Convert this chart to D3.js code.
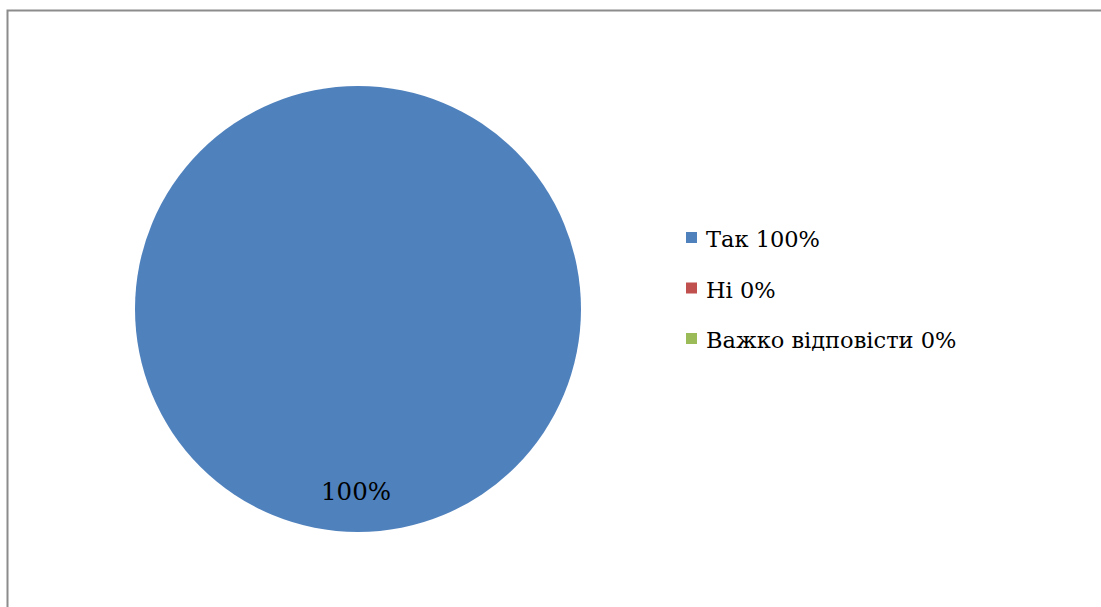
<!DOCTYPE html>
<head>
<meta charset="utf-8">
<style>
  body { margin: 0; background: #fff; }
</style>
</head>
<body>
<script src="https://d3js.org/d3.v7.min.js"></script>
<script>
  // data
  var categories = ["Так", "Ні", "Важко відповісти"];
  var values = [100, 0, 0];
  var colors = ["#4F81BD", "#C0504D", "#9BBB59"];

  var width = 1101, height = 607;
  var cx = 358, cy = 309, radius = 223;
  var serif = "'DejaVu Serif', serif";

  var svg = d3.select("body").append("svg")
      .attr("width", width)
      .attr("height", height);

  // chart border (runs off right and bottom edge)
  svg.append("path")
      .attr("d", "M7.5," + height + " V10.5 H" + width)
      .attr("fill", "none")
      .attr("stroke", "#8c8c8c")
      .attr("stroke-width", 2);

  var data = categories.map(function (c, i) { return { name: c, value: values[i], color: colors[i] }; });

  var pie = d3.pie().sort(null).value(function (d) { return d.value; });
  var arc = d3.arc().innerRadius(0).outerRadius(radius);
  var labelArc = d3.arc().innerRadius(radius * 0.82).outerRadius(radius * 0.82);

  var g = svg.append("g").attr("transform", "translate(" + cx + "," + cy + ")");

  var slices = pie(data);

  g.selectAll("path.slice")
    .data(slices.filter(function (d) { return d.value > 0; }))
    .enter().append("path")
      .attr("class", "slice")
      .attr("d", arc)
      .attr("fill", function (d) { return d.data.color; });

  // data labels: full slice label sits at the bottom
  g.selectAll("text.lbl")
    .data(slices.filter(function (d) { return d.value > 0; }))
    .enter().append("text")
      .attr("class", "lbl")
      .attr("x", function (d) {
        var full = (d.endAngle - d.startAngle) >= 2 * Math.PI - 1e-6;
        return full ? -2 : labelArc.centroid(d)[0];
      })
      .attr("y", function (d) {
        var full = (d.endAngle - d.startAngle) >= 2 * Math.PI - 1e-6;
        return full ? radius * 0.86 - 1 : labelArc.centroid(d)[1];
      })
      .attr("text-anchor", "middle")
      .attr("font-family", serif)
      .attr("font-size", 24.5)
      .attr("fill", "#000")
      .text(function (d) { return d.value + "%"; });

  // legend
  var legend = svg.append("g").attr("transform", "translate(686,238)");
  var item = legend.selectAll("g.item")
    .data(data)
    .enter().append("g")
      .attr("class", "item")
      .attr("transform", function (d, i) { return "translate(0," + (i * 50.5) + ")"; });

  item.append("rect")
      .attr("x", 0).attr("y", -6)
      .attr("width", 11).attr("height", 11)
      .attr("fill", function (d) { return d.color; });

  item.append("text")
      .attr("x", 20)
      .attr("y", 9)
      .attr("font-family", serif)
      .attr("font-size", 22.5)
      .attr("fill", "#000")
      .text(function (d) { return d.name + " " + d.value + "%"; });
</script>
</body>
</html>
